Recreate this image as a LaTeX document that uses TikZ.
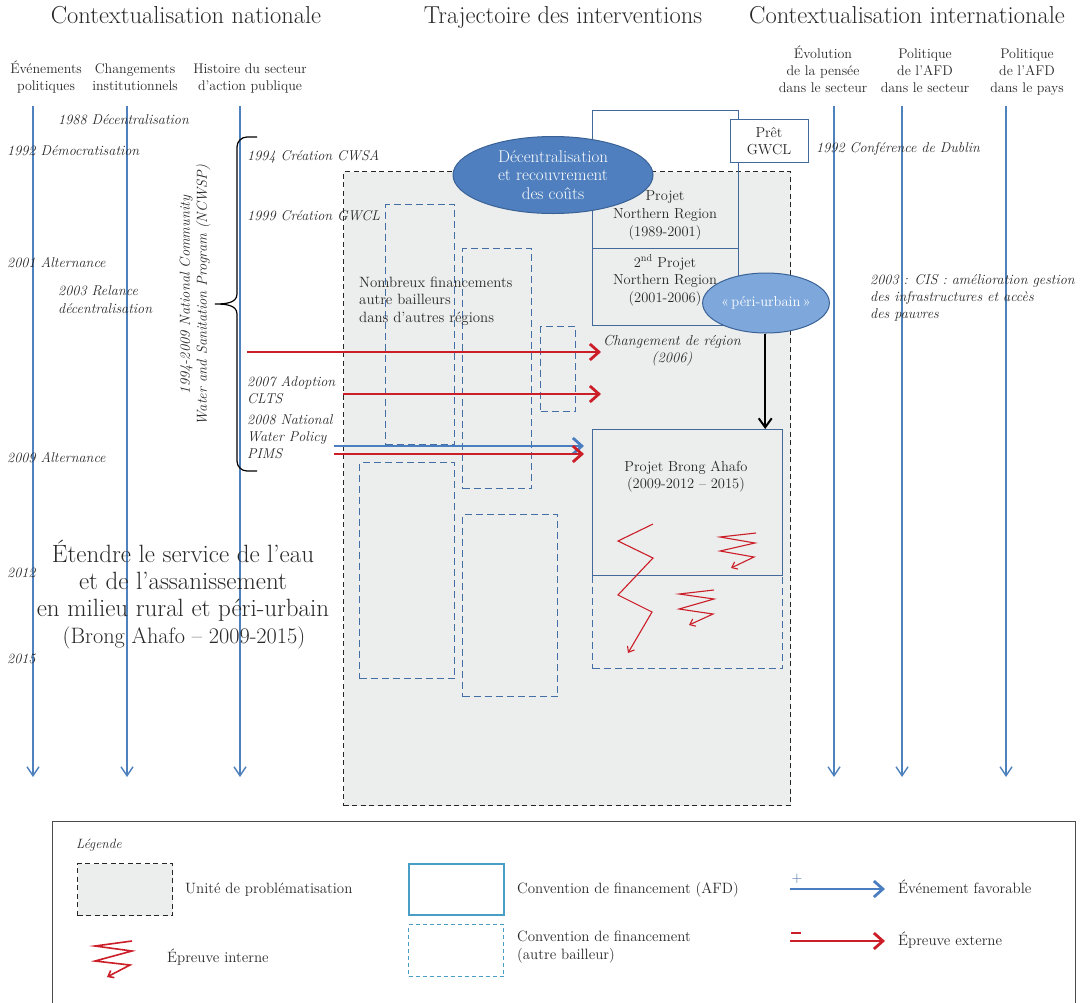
\documentclass[tikz,border=0pt]{standalone}
\usepackage{fontspec}
\usepackage{xcolor}
\definecolor{lineblue}{RGB}{79,129,189}
\definecolor{boxblue}{RGB}{66,104,156}
\definecolor{dashblue}{RGB}{68,110,166}
\definecolor{evred}{RGB}{204,30,40}
\definecolor{evblue}{RGB}{74,126,192}
\definecolor{unitgray}{RGB}{236,237,237}
\definecolor{darkell}{RGB}{79,127,190}
\definecolor{elledge}{RGB}{58,98,150}
\definecolor{lightell}{RGB}{126,168,220}
\definecolor{legblue}{RGB}{72,158,196}
\definecolor{textgray}{RGB}{40,40,40}
\usepackage{tikz}
\usetikzlibrary{arrows.meta}
\usetikzlibrary{shapes.geometric}
\usetikzlibrary{positioning}
\newcommand{\fsmall}{\fontsize{14.2}{17}\selectfont}
\newcommand{\fboxtext}{\fontsize{14.5}{18}\selectfont}
\newcommand{\fhead}{\fontsize{24.5}{29}\selectfont}
\newcommand{\flegend}{\fontsize{14.95}{18}\selectfont}
\tikzset{
    common/.style={inner sep=0pt, text=textgray, font=\fsmall},
    header/.style={common, anchor=base, font=\fhead},
    colhead/.style={common, anchor=base, align=center, font=\fontsize{14}{16.8}\selectfont},
    event/.style={common, anchor=base west, align=left, font=\fsmall\itshape},
    boxtext/.style={common, anchor=base, align=center, font=\fboxtext},
    legtext/.style={common, anchor=base west, align=left, font=\flegend},
    timeline/.style={lineblue, line width=1.4pt, -{Straight Barb[length=9pt, width=12pt]}},
    unit/.style={draw=black!85, fill=unitgray, dash pattern=on 5pt off 3.5pt, line width=1pt, inner sep=0pt, anchor=north west},
    afdbox/.style={draw=boxblue, line width=1.2pt, inner sep=0pt, anchor=north west},
    otherbox/.style={afdbox, draw=dashblue, dash pattern=on 7pt off 4pt},
    favorable/.style={evblue, line width=2.8pt, -{Straight Barb[length=9pt, width=16pt]}},
    external/.style={evred, line width=2.8pt, -{Straight Barb[length=9pt, width=16pt]}},
    push/.style={black, line width=2pt, -{Straight Barb[length=9pt, width=13pt]}},
    strain/.style={evred, line width=1.1pt, -{Straight Barb[length=5pt, width=8pt]}},
    bubble/.style={ellipse, draw=elledge, line width=1pt, inner sep=0pt, text=white, align=center}
}

\begin{document}
\begin{tikzpicture}[x=1pt, y=-1pt]
    \useasboundingbox (0,0) rectangle (1089,1002);

    % headers
    \path
        (186,23) node[header] (hd-nat) {Contextualisation nationale}
        (563,23) node[header] (hd-traj) {Trajectoire des interventions}
        (907,23) node[header] (hd-int) {Contextualisation internationale};

    % (base of a multi-line node = its last line)
    \path
        (46,90) node[colhead] (col-pol) {Événements\\politiques}
        (135,90) node[colhead] (col-inst) {Changements\\institutionnels}
        (250,90) node[colhead] (col-hist) {Histoire du secteur\\d’action publique}
        (823,92) node[colhead] (col-pensee) {Évolution\\de la pensée\\dans le secteur}
        (925,92) node[colhead] (col-afdsect) {Politique\\de l’AFD\\dans le secteur}
        (1027,92) node[colhead] (col-afdpays) {Politique\\de l’AFD\\dans le pays};

    % unite de problematisation and conventions
    \node[unit, minimum width=447pt, minimum height=634pt] (unit) at (343,171) {};
    \foreach \name/\x/\y/\w/\h in {ob-1/385/204/69/240, ob-2/462/248/69/240, ob-3/540/326/35/85,
                                   ob-4/359/462/95/216, ob-5/462/514/95/182, ob-brong/592/575/190/93}
        \node[otherbox, minimum width=\w pt, minimum height=\h pt] (\name) at (\x,\y) {};
    \node[afdbox, minimum width=146pt, minimum height=138pt] (nr-1) at (592,110) {};
    \node[afdbox, minimum width=146pt, minimum height=77pt] (nr-2) at (592,248) {};
    \node[afdbox, minimum width=190pt, minimum height=146pt] (brong) at (592,429) {};
    \node[afdbox, fill=white, minimum width=78pt, minimum height=43pt] (pret) at (730,119) {};

    % timelines
    \foreach \name/\x in {pol/33, inst/127, hist/240, pensee/834, afdsect/902, afdpays/1006} {
        \coordinate (tl-\name-top) at (\x,106);
        \coordinate (tl-\name-end) at (\x,777);
        \draw[timeline] (tl-\name-top) -- (tl-\name-end);
    }

    % national events
    \path
        (58,124) node[event] (ev-1988) {1988 Décentralisation}
        (7,155) node[event] (ev-1992) {1992 Démocratisation}
        (7,267) node[event] (ev-2001) {2001 Alternance}
        (58,313) node[event, font=\fontsize{14.2}{18}\selectfont\itshape] (ev-2003) {2003 Relance\\décentralisation}
        (7,462) node[event] (ev-2009) {2009 Alternance}
        (7,577) node[event] (ev-2012) {2012}
        (7,663) node[event] (ev-2015) {2015}
        (247,160) node[event] (ev-cwsa) {1994 Création CWSA}
        (247,220) node[event] (ev-gwcl) {1999 Création GWCL}
        (247,403) node[event, font=\fontsize{14.2}{16.5}\selectfont\itshape] (ev-clts) {2007 Adoption\\CLTS}
        (247,458) node[event, font=\fontsize{14.2}{17}\selectfont\itshape] (ev-water) {2008 National\\Water Policy\\PIMS};

    \draw[black, line width=1.2pt] (257,137) -- (247,137) to[out=180, in=90] (237,147) -- (237,294)
        to[out=270, in=0] (215,304) to[out=0, in=90] (237,314) -- (237,461)
        to[out=270, in=180] (247,471) -- (257,471);
    \node[event, anchor=center, align=center, rotate=90, font=\fontsize{14.5}{17}\selectfont\itshape] (ncwsp) at (195,295)
        {1994-2009 National Community\\Water and Sanitation Program (NCWSP)};

    % international events
    \path
        (816,152) node[event] (ev-dublin) {1992 Conférence de Dublin}
        (870,318) node[event] (ev-cis) {2003 : CIS : amélioration gestion\\des infrastructures et accès\\des pauvres};

    % texts in the boxes
    \path
        (665,236) node[boxtext] (nr-1-txt) {Projet\\Northern Region\\(1989-2001)}
        (665,302) node[boxtext, font=\fontsize{14.5}{17.5}\selectfont] (nr-2-txt) {2\textsuperscript{nd} Projet\\Northern Region\\(2001-2006)}
        (769,154) node[boxtext, font=\fontsize{14.5}{17}\selectfont] (pret-txt) {Prêt\\GWCL}
        (686,488) node[boxtext, font=\fontsize{14.5}{16.5}\selectfont] (brong-txt) {Projet Brong Ahafo\\(2009-2012 -- 2015)}
        (359,322) node[boxtext, anchor=base west, align=left, font=\fontsize{14.9}{17.5}\selectfont] (others-txt) {Nombreux financements\\autre bailleurs\\dans d’autres régions}
        (672,362) node[event, anchor=base, align=center, font=\fontsize{14.5}{17}\selectfont\itshape] (chgt) {Changement de région\\(2006)};

    \node[bubble, fill=darkell, minimum width=200pt, minimum height=77pt, font=\fontsize{17}{18.7}\selectfont] (decentr) at (553,175)
        {Décentralisation\\et recouvrement\\des coûts};
    \node[bubble, fill=lightell, minimum width=111pt, minimum height=60pt, font=\fontsize{14.5}{16}\selectfont] (peri) at (766,303)
        {«\,péri-urbain\,»};
    \draw[push] (peri.south -| brong.north east) ++(-18,0) coordinate (peri-foot) -- (peri-foot |- brong.north);

    % evenements et epreuves externes
    \coordinate (ext-1-start) at (247,352);
    \coordinate (ext-1-end) at (601,352);
    \coordinate (ext-2-start) at (343,394);
    \coordinate (ext-2-end) at (601,394);
    \coordinate (fav-start) at (334,446);
    \coordinate (fav-end) at (584,446);
    \coordinate (ext-3-start) at (334,454);
    \coordinate (ext-3-end) at (584,454);
    \draw[external] (ext-1-start) -- (ext-1-end);
    \draw[external] (ext-2-start) -- (ext-2-end);
    \draw[favorable] (fav-start) -- (fav-end);
    \draw[external] (ext-3-start) -- (ext-3-end);

    % epreuves internes
    \draw[strain] (653,524) -- (618,541) -- (653,558) -- (618,595) -- (652,612) -- (628,653);
    \draw[strain] (756,533) -- (720,537) -- (755,543) -- (720,551) -- (754,557) -- (731,568);
    \draw[strain] (714,590) -- (679,594) -- (714,599) -- (679,609) -- (713,614) -- (689,625);

    % objectif
    \node[common, anchor=base, align=center, font=\fontsize{25}{27}\selectfont] (goal) at (183,616)
        {Étendre le service de l’eau\\et de l’assanissement\\en milieu rural et péri-urbain};
    \node[common, anchor=base, font=\fontsize{22.3}{24}\selectfont] (goal-sub) at (184,643) {(Brong Ahafo -- 2009-2015)};

    % legende
    \draw[black!70, line width=1pt] (52,821) rectangle (1075,1015);
    \node[event, font=\fontsize{13.5}{16}\selectfont\itshape] (leg-title) at (76,848) {Légende};
    \node[unit, minimum width=95pt, minimum height=52pt] (leg-unit) at (77,863) {};
    \node[legtext] (leg-unit-txt) at (185,893) {Unité de problématisation};
    \node[afdbox, draw=legblue, line width=1.6pt, minimum width=95pt, minimum height=51pt] (leg-afd) at (408,863) {};
    \node[legtext] (leg-afd-txt) at (517,893) {Convention de financement (AFD)};
    \node[afdbox, draw=legblue, dash pattern=on 4pt off 3pt, line width=1.3pt, minimum width=95pt, minimum height=52pt] (leg-other) at (408,924) {};
    \node[legtext] (leg-other-txt) at (517,959) {Convention de financement\\(autre bailleur)};
    \draw[strain, line width=1.6pt] (132,941) -- (95,946) -- (132,951) -- (95,961) -- (130,965) -- (107,977);
    \node[legtext] (leg-strain-txt) at (167,962) {Épreuve interne};

    \coordinate (leg-fav-start) at (790,889);
    \coordinate (leg-fav-end) at (885,889);
    \draw[favorable] (leg-fav-start) -- (leg-fav-end);
    \node[common, text=boxblue, font=\fontsize{15}{18}\selectfont] (leg-plus) at (797,879) {+};
    \node[legtext] (leg-fav-txt) at (898,893) {Événement favorable};
    \coordinate (leg-ext-start) at (790,941);
    \coordinate (leg-ext-end) at (885,941);
    \draw[external] (leg-ext-start) -- (leg-ext-end);
    \draw[evred, line width=1.6pt] (791,933) -- (801,933);
    \node[legtext] (leg-ext-txt) at (898,945) {Épreuve externe};
\end{tikzpicture}
\end{document}
